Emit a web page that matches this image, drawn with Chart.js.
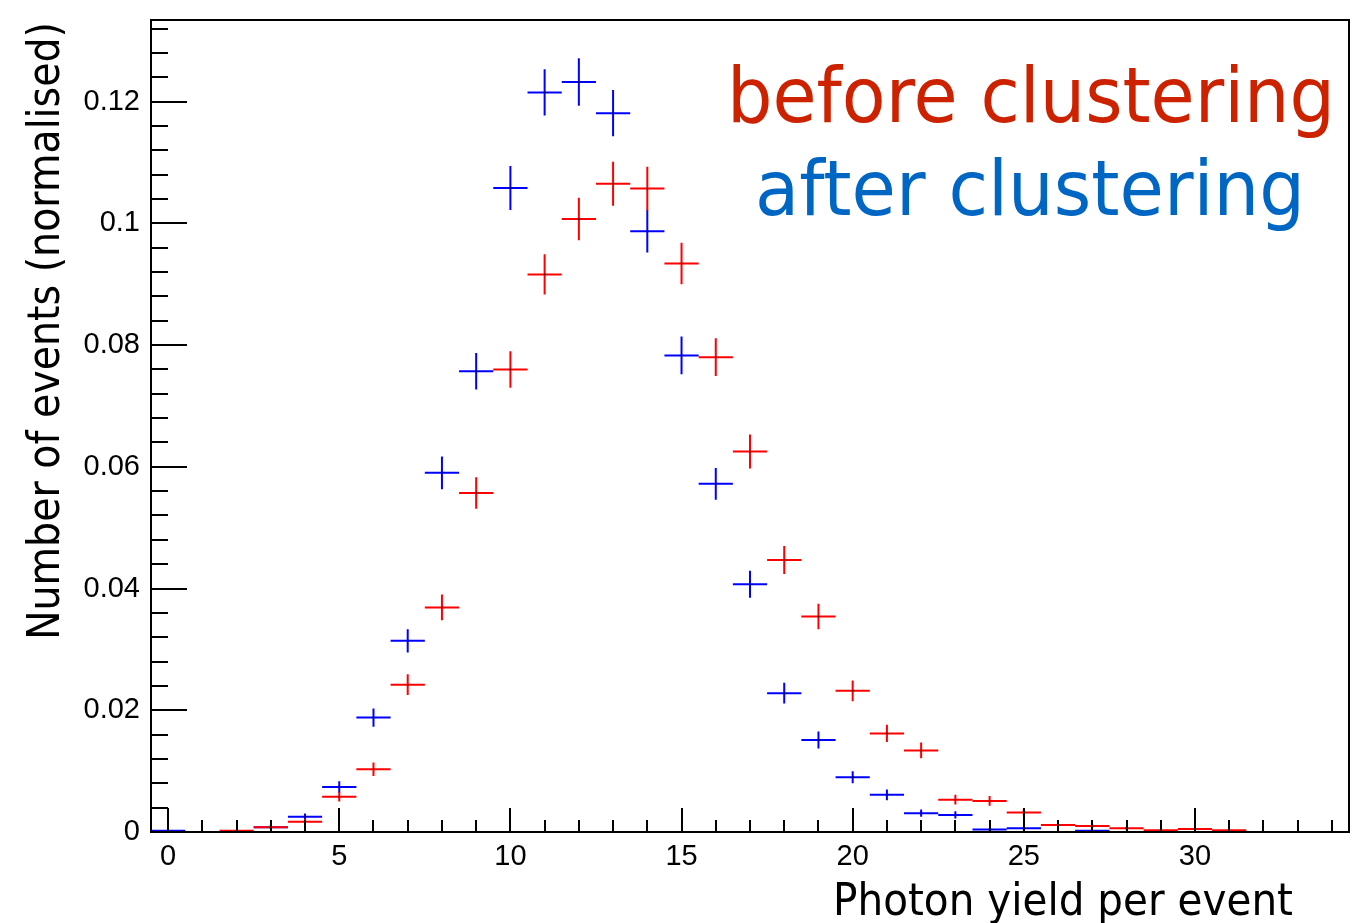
<!DOCTYPE html>
<html>
<head>
<meta charset="utf-8">
<title>Photon yield per event</title>
<script src="https://cdn.jsdelivr.net/npm/chart.js@4.4.1/dist/chart.umd.min.js"></script>
<style>
    html, body { margin: 0; padding: 0; background: #fff; }
    #wrap { width: 1369px; height: 923px; }
</style>
</head>
<body>
<div id="wrap"><canvas id="yield-chart" width="1369" height="923"></canvas></div>
<script>
// bin centres (photons per event), one bin per integer
const photonBins = [0, 1, 2, 3, 4, 5, 6, 7, 8, 9, 10, 11, 12, 13, 14, 15,
    16, 17, 18, 19, 20, 21, 22, 23, 24, 25, 26, 27, 28, 29, 30, 31];

// normalised counts, null = empty bin
const yieldBefore = [null, null, 0.0002, 0.0008, 0.0017, 0.0058, 0.0103, 0.0242, 0.0369, 0.0557,
    0.0760, 0.0916, 0.1007, 0.1065, 0.1057, 0.0934, 0.0780, 0.0625, 0.0447, 0.0354,
    0.0232, 0.0162, 0.0134, 0.0053, 0.0051, 0.0032, 0.00115, 0.0010, 0.0006, 0.0003,
    0.0005, 0.0003];
const errBefore = [null, null, 0.00015, 0.0003, 0.00045, 0.0008, 0.0011, 0.0017, 0.0021, 0.0026,
    0.0030, 0.0033, 0.0035, 0.0036, 0.0036, 0.0034, 0.0031, 0.0028, 0.0023, 0.0021,
    0.0017, 0.0014, 0.0013, 0.0008, 0.0008, 0.0006, 0.0004, 0.00035, 0.00027, 0.0002,
    0.00025, 0.0002];

const yieldAfter = [0.0002, null, null, 0.0008, 0.0025, 0.0074, 0.0188, 0.0314, 0.0590, 0.0757,
    0.1058, 0.1215, 0.1232, 0.1181, 0.0987, 0.0783, 0.0572, 0.0407, 0.0228, 0.0151,
    0.0090, 0.0061, 0.0031, 0.0028, 0.0004, 0.0006, null, 0.0002, null, null,
    null, null];
const errAfter = [0.00016, null, null, 0.0003, 0.00055, 0.00095, 0.0015, 0.0019, 0.0027, 0.0030,
    0.0036, 0.0038, 0.0039, 0.0038, 0.0035, 0.0031, 0.0026, 0.0022, 0.0017, 0.0014,
    0.0010, 0.0009, 0.0006, 0.0006, 0.0002, 0.0003, null, 0.00015, null, null,
    null, null];

const xTickValues = [0, 5, 10, 15, 20, 25, 30];
const yTickValues = [0, 0.02, 0.04, 0.06, 0.08, 0.1, 0.12];
const yTickLabels = ['0', '0.02', '0.04', '0.06', '0.08', '0.1', '0.12'];

const labelBefore = 'before clustering';
const labelAfter = 'after clustering';
const titleX = 'Photon yield per event';
const titleY = 'Number of events (normalised)';

const binHalfWidth = 0.5;

function toPoints(values, errors) {
    return photonBins
        .map((bin, i) => values[i] === null ? null : {x: bin, y: values[i], err: errors[i]})
        .filter(p => p !== null);
}

// text squeezed/stretched to a given width
function drawFitted(ctx, text, x, y, width, font, color) {
    ctx.save();
    ctx.font = font;
    ctx.fillStyle = color;
    ctx.textAlign = 'left';
    ctx.textBaseline = 'alphabetic';
    const natural = ctx.measureText(text).width;
    ctx.translate(x, y);
    ctx.scale(width / natural, 1);
    ctx.fillText(text, 0, 0);
    ctx.restore();
}

const errorBarsPlugin = {
    id: 'errorBars',
    beforeDatasetsDraw(chart) {
        const {ctx, chartArea, scales: {x, y}} = chart;
        ctx.save();
        ctx.beginPath();
        ctx.rect(chartArea.left, chartArea.top, chartArea.width, chartArea.height);
        ctx.clip();
        chart.data.datasets.forEach((ds) => {
            ctx.strokeStyle = ds.borderColor;
            ctx.lineWidth = 2;
            ds.data.forEach((p) => {
                const px = x.getPixelForValue(p.x);
                const py = y.getPixelForValue(p.y);
                ctx.beginPath();
                ctx.moveTo(x.getPixelForValue(p.x - binHalfWidth), py);
                ctx.lineTo(x.getPixelForValue(p.x + binHalfWidth), py);
                ctx.moveTo(px, y.getPixelForValue(p.y - p.err));
                ctx.lineTo(px, y.getPixelForValue(p.y + p.err));
                ctx.stroke();
            });
        });
        ctx.restore();
    }
};

// frame + inward ticks
const framePlugin = {
    id: 'frame',
    afterDraw(chart) {
        const {ctx, chartArea: a, scales: {x, y}} = chart;
        ctx.save();
        ctx.strokeStyle = '#000';
        ctx.lineWidth = 2;
        ctx.strokeRect(a.left, a.top, a.right - a.left, a.bottom - a.top);

        ctx.beginPath();
        for (let v = Math.ceil(x.min); v <= x.max; v++) {
            const px = Math.round(x.getPixelForValue(v));
            const len = v % 5 === 0 ? 24 : 12;
            ctx.moveTo(px, a.bottom);
            ctx.lineTo(px, a.bottom - len);
        }
        for (let k = 1; k * 0.004 <= y.max; k++) {
            const py = Math.round(y.getPixelForValue(k * 0.004));
            const len = k % 5 === 0 ? 36 : 17;
            ctx.moveTo(a.left, py);
            ctx.lineTo(a.left + len, py);
        }
        ctx.stroke();
        ctx.restore();
    }
};

const titlesPlugin = {
    id: 'titles',
    afterDraw(chart) {
        const ctx = chart.ctx;
        drawFitted(ctx, labelBefore, 727, 122, 608, '76px "DejaVu Sans"', '#cc2200');
        drawFitted(ctx, labelAfter, 755, 215, 550, '76px "DejaVu Sans"', '#0066c4');
        drawFitted(ctx, titleX, 833, 915, 460, '44px "DejaVu Sans"', '#000');

        ctx.save();
        ctx.translate(59, 640);
        ctx.rotate(-Math.PI / 2);
        drawFitted(ctx, titleY, 0, 0, 618, '45px "DejaVu Sans"', '#000');
        ctx.restore();
    }
};

const tickFont = {family: '"Liberation Sans", Arial, sans-serif', size: 29};

const chartConfig = {
    type: 'scatter',
    data: {
        datasets: [
            {
                label: labelAfter,
                data: toPoints(yieldAfter, errAfter),
                borderColor: '#0000ff',
                backgroundColor: '#000',
                pointStyle: 'rect',
                pointRadius: 1,
                pointBorderWidth: 0
            },
            {
                label: labelBefore,
                data: toPoints(yieldBefore, errBefore),
                borderColor: '#ff0000',
                backgroundColor: '#000',
                pointStyle: 'rect',
                pointRadius: 1,
                pointBorderWidth: 0
            }
        ]
    },
    options: {
        responsive: false,
        animation: false,
        layout: {padding: {left: 0, top: 20, right: 20, bottom: 0}},
        scales: {
            x: {
                type: 'linear',
                min: -0.5,
                max: 34.5,
                grid: {display: false, drawTicks: false},
                border: {display: false},
                afterBuildTicks: (scale) => {
                    scale.ticks = xTickValues.map(v => ({value: v}));
                },
                afterFit: (scale) => {
                    scale.height = 91;
                    scale.paddingLeft = 0;
                    scale.paddingRight = 0;
                },
                ticks: {
                    autoSkip: false,
                    maxRotation: 0,
                    padding: 8,
                    color: '#000',
                    font: tickFont,
                    callback: (value) => String(value)
                }
            },
            y: {
                type: 'linear',
                min: 0,
                max: 0.1334,
                grid: {display: false, drawTicks: false},
                border: {display: false},
                afterBuildTicks: (scale) => {
                    scale.ticks = yTickValues.map(v => ({value: v}));
                },
                afterFit: (scale) => {
                    scale.width = 151;
                    scale.paddingTop = 0;
                    scale.paddingBottom = 0;
                },
                ticks: {
                    autoSkip: false,
                    padding: 11,
                    color: '#000',
                    font: tickFont,
                    callback: (value, index) => yTickLabels[index]
                }
            }
        },
        plugins: {
            legend: {display: false},
            tooltip: {enabled: false}
        }
    },
    plugins: [errorBarsPlugin, framePlugin, titlesPlugin]
};

const canvas = document.querySelector('#yield-chart');
if (canvas) {
    const yieldChart = new Chart(canvas, chartConfig);
}
</script>
</body>
</html>
